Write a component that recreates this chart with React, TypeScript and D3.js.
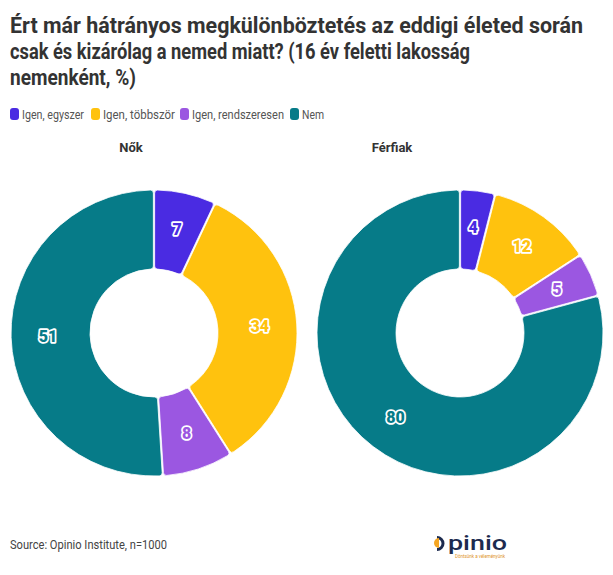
import React from "react";
import * as d3 from "d3";

const categories = ["Igen, egyszer", "Igen, többször", "Igen, rendszeresen", "Nem"];
const colors = ["#4a2be2", "#ffc20e", "#9b57e1", "#067b88"];
const womenValues = [7, 34, 8, 51];
const menValues = [4, 12, 5, 80];
const panelTitles = ["Nők", "Férfiak"];
const titleLines = [
  "Ért már hátrányos megkülönböztetés az eddigi életed során",
  "csak és kizárólag a nemed miatt? (16 év feletti lakosság",
  "nemenként, %)",
];
const titleWidths = [573, 460, 126];
const legendX = [10, 91, 180, 290];
const legendWidths = [62, 72, 92, 22];

const W = 613;
const H = 575;
const FONT = "Roboto, 'Open Sans', sans-serif";

function Donut({ values, cx, cy }: { values: number[]; cx: number; cy: number }) {
  const pie = d3.pie<number>().sort(null).value((d) => d);
  const arcs = pie(values);
  const R = 143;
  const r = 64;
  const arc = d3.arc<d3.PieArcDatum<number>>().innerRadius(r).outerRadius(R).cornerRadius(3).padAngle(0.008);
  const labelArc = d3.arc<d3.PieArcDatum<number>>().innerRadius(106).outerRadius(106);
  return (
    <g transform={`translate(${cx},${cy})`}>
      {arcs.map((a, i) => (
        <path key={i} d={arc(a) || ""} fill={colors[i]} stroke="#fff" strokeWidth={0.8} />
      ))}
      {arcs.map((a, i) => {
        const [x, y] = labelArc.centroid(a);
        return (
          <text
            key={"l" + i}
            x={x}
            y={y}
            dy="0.35em"
            textAnchor="middle"
            fontFamily={FONT}
            fontWeight={900}
            fontSize={16}
            fill={colors[i]}
            stroke="#fff"
            strokeWidth={3.5}
            strokeLinejoin="round"
            paintOrder="stroke"
          >
            {values[i]}
          </text>
        );
      })}
    </g>
  );
}

export default function App() {
  return (
    <svg width={W} height={H} style={{ position: "absolute", left: 0, top: 0, background: "#fff" }}>
      {titleLines.map((t, i) => (
        <text
          key={i}
          x={10}
          y={33 + i * 26}
          fontFamily={FONT}
          fontWeight={700}
          fontSize={22}
          fill="#333333"
          textLength={titleWidths[i]}
          lengthAdjust="spacingAndGlyphs"
        >
          {t}
        </text>
      ))}
      {categories.map((c, i) => (
        <g key={c}>
          <rect x={legendX[i]} y={108} width={9} height={12} rx={3} fill={colors[i]} />
          <text
            x={legendX[i] + 12}
            y={118.5}
            fontFamily={FONT}
            fontSize={13}
            fill="#555555"
            textLength={legendWidths[i]}
            lengthAdjust="spacingAndGlyphs"
          >
            {c}
          </text>
        </g>
      ))}
      <text x={131} y={152} textAnchor="middle" fontFamily={FONT} fontWeight={700} fontSize={13} fill="#333333">
        {panelTitles[0]}
      </text>
      <text x={392} y={152} textAnchor="middle" fontFamily={FONT} fontWeight={700} fontSize={13} fill="#333333">
        {panelTitles[1]}
      </text>
      <Donut values={womenValues} cx={154} cy={333} />
      <Donut values={menValues} cx={460} cy={333} />
      <text
        x={10}
        y={549}
        fontFamily={FONT}
        fontSize={13}
        fill="#444444"
        textLength={157}
        lengthAdjust="spacingAndGlyphs"
      >
        Source: Opinio Institute, n=1000
      </text>
      <g>
        <path d="M 437 537.5 A 6 6 0 1 1 437 549.5" fill="none" stroke="#1d2b4f" strokeWidth={3} />
        <path d="M 439 538 A 5 5 0 0 0 439 548 Z" fill="#f5a623" />
        <text
          x={448}
          y={550}
          fontFamily={FONT}
          fontWeight={500}
          fontSize={21}
          fill="#1d2b4f"
          textLength={59}
          lengthAdjust="spacingAndGlyphs"
        >
          pinio
        </text>
        <text x={455} y={558} fontFamily={FONT} fontSize={4.5} fill="#e0952a" textLength={50} lengthAdjust="spacingAndGlyphs">
          Döntsünk a véleményünk
        </text>
      </g>
    </svg>
  );
}
